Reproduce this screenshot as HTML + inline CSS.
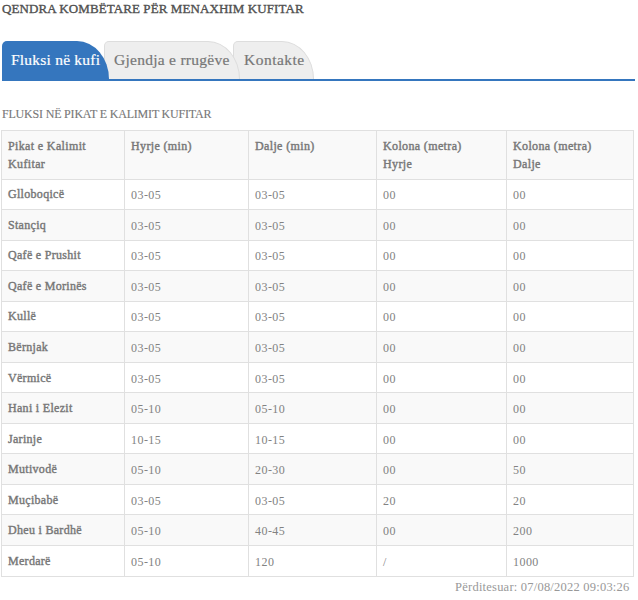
<!DOCTYPE html>
<html>
<head>
<meta charset="utf-8">
<style>
html,body{margin:0;padding:0;background:#fff;}
body{width:638px;height:600px;overflow:hidden;position:relative;font-family:"Liberation Serif",serif;color:#777;}
h1{position:absolute;left:2px;top:1px;margin:0;font-size:13px;line-height:16px;font-weight:normal;color:#505050;white-space:nowrap;letter-spacing:0.09px;-webkit-text-stroke:0.35px #505050;}
.tabs{position:absolute;left:2px;top:41px;height:38px;width:632px;}
.line{position:absolute;left:1.5px;top:79px;width:633.5px;height:1.6px;background:#3576be;}
.tab{position:absolute;top:0;height:38px;box-sizing:border-box;font-size:15.5px;line-height:38px;white-space:nowrap;border-radius:5px 32px 0 0 / 5px 38px 0 0;-webkit-text-stroke:0.2px;}
.t1{left:0;width:107px;background:#3576be;color:#fff;padding-left:9px;z-index:3;letter-spacing:0.22px;}
.t2{left:102px;width:136px;background:#eee;border:1px solid #ddd;border-bottom:none;color:#777;padding-left:9px;z-index:2;line-height:36px;letter-spacing:0.27px;}
.t3{left:231px;width:81px;background:#eee;border:1px solid #ddd;border-bottom:none;color:#777;padding-left:10px;z-index:1;line-height:36px;letter-spacing:0.49px;}
h2{position:absolute;left:2px;top:107px;margin:0;font-size:12px;line-height:14px;font-weight:normal;color:#777;white-space:nowrap;letter-spacing:-0.19px;-webkit-text-stroke:0.12px #777;}
table{position:absolute;left:1px;top:130px;width:632px;border-collapse:collapse;table-layout:fixed;font-size:12px;}
td,th{border:1px solid #e0e0e0;padding:0 0 0 6px;text-align:left;vertical-align:middle;height:29.54px;letter-spacing:0.45px;line-height:18px;color:#828282;font-weight:normal;}
th{vertical-align:top;padding-top:6px;padding-bottom:0;height:41.6px;color:#777;font-weight:normal;letter-spacing:0.36px;-webkit-text-stroke:0.4px #777;}
td:first-child{font-weight:normal;color:#777;letter-spacing:0.3px;-webkit-text-stroke:0.4px #777;}
td:not(:first-child){padding-top:2px;height:27.54px;}
tr:nth-child(odd){background:#f9f9f9;}
.upd{position:absolute;right:8.5px;top:580px;font-size:12.5px;line-height:14px;color:#999;white-space:nowrap;letter-spacing:0.22px;}
</style>
</head>
<body>
<h1>QENDRA KOMBËTARE PËR MENAXHIM KUFITAR</h1>
<div class="tabs">
<div class="tab t1">Fluksi në kufi</div>
<div class="tab t2">Gjendja e rrugëve</div>
<div class="tab t3">Kontakte</div>
</div>
<div class="line"></div>
<h2>FLUKSI NË PIKAT E KALIMIT KUFITAR</h2>
<table>
<colgroup><col style="width:123px"><col style="width:124px"><col style="width:128px"><col style="width:130px"><col style="width:127px"></colgroup>
<tr><th>Pikat e Kalimit<br>Kufitar</th><th>Hyrje (min)</th><th>Dalje (min)</th><th>Kolona (metra)<br>Hyrje</th><th>Kolona (metra)<br>Dalje</th></tr>
<tr><td>Glloboqicë</td><td>03-05</td><td>03-05</td><td>00</td><td>00</td></tr>
<tr><td>Stançiq</td><td>03-05</td><td>03-05</td><td>00</td><td>00</td></tr>
<tr><td>Qafë e Prushit</td><td>03-05</td><td>03-05</td><td>00</td><td>00</td></tr>
<tr><td>Qafë e Morinës</td><td>03-05</td><td>03-05</td><td>00</td><td>00</td></tr>
<tr><td>Kullë</td><td>03-05</td><td>03-05</td><td>00</td><td>00</td></tr>
<tr><td>Bërnjak</td><td>03-05</td><td>03-05</td><td>00</td><td>00</td></tr>
<tr><td>Vërmicë</td><td>03-05</td><td>03-05</td><td>00</td><td>00</td></tr>
<tr><td>Hani i Elezit</td><td>05-10</td><td>05-10</td><td>00</td><td>00</td></tr>
<tr><td>Jarinje</td><td>10-15</td><td>10-15</td><td>00</td><td>00</td></tr>
<tr><td>Mutivodë</td><td>05-10</td><td>20-30</td><td>00</td><td>50</td></tr>
<tr><td>Muçibabë</td><td>03-05</td><td>03-05</td><td>20</td><td>20</td></tr>
<tr><td>Dheu i Bardhë</td><td>05-10</td><td>40-45</td><td>00</td><td>200</td></tr>
<tr><td>Merdarë</td><td>05-10</td><td>120</td><td>/</td><td>1000</td></tr>
</table>
<div class="upd">Përditesuar: 07/08/2022 09:03:26</div>
</body>
</html>
